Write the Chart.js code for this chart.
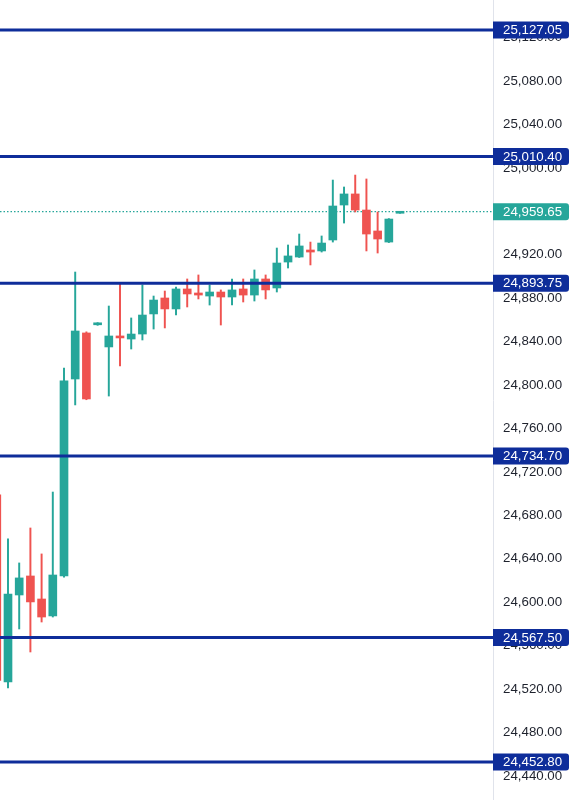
<!DOCTYPE html>
<html><head><meta charset="utf-8">
<script src="https://cdn.jsdelivr.net/npm/chart.js@4.4.1/dist/chart.umd.min.js"></script>
<style>html,body{margin:0;padding:0;background:#fff;overflow:hidden}#wrap{width:576px;height:800px;position:relative}</style>
</head><body><div id="wrap"><canvas id="c"></canvas></div>
<script>
const candleIndex = [0,1,2,3,4,5,6,7,8,9,10,11,12,13,14,15,16,17,18,19,20,21,22,23,24,25,26,27,28,29,30,31,32,33,34,35,36];
const opens  = [24699.0,24526.6,24606.7,24624.2,24603.0,24587.4,24624.2,24805.6,24848.0,24855.5,24835.1,24845.2,24842.4,24847.0,24865.5,24880.2,24870.1,24888.5,24884.8,24882.0,24885.7,24881.1,24888.5,24882.9,24897.7,24889.4,24913.3,24917.9,24924.4,24923.5,24933.6,24965.8,24976.0,24961.2,24941.9,24931.7,24958.2];
const highs  = [24712.0,24658.3,24636.2,24668.4,24644.5,24701.5,24815.7,24904.1,24849.0,24857.5,24872.8,24893.0,24861.8,24892.2,24882.0,24886.6,24890.3,24897.7,24901.4,24892.2,24887.6,24897.7,24897.7,24906.0,24901.4,24926.2,24929.0,24939.1,24931.7,24937.3,24988.8,24982.4,24993.4,24989.8,24959.4,24953.3,24959.65];
const lows   = [24515.0,24521.1,24575.4,24554.2,24581.8,24586.4,24623.0,24781.7,24786.5,24855.0,24789.9,24817.6,24833.2,24841.5,24851.6,24852.6,24864.5,24871.9,24879.3,24873.7,24855.3,24873.7,24876.5,24877.4,24879.3,24885.7,24907.8,24917.5,24910.6,24922.5,24931.7,24949.2,24959.4,24923.5,24921.6,24931.2,24958.2];
const closes = [24528.0,24607.6,24622.4,24600.3,24586.4,24625.1,24803.8,24849.8,24787.2,24857.0,24845.2,24843.4,24847.0,24864.5,24878.3,24870.1,24888.5,24883.9,24882.9,24885.7,24881.1,24887.6,24882.9,24897.7,24887.6,24912.4,24918.9,24928.1,24922.5,24930.8,24964.9,24976.0,24961.2,24939.1,24934.5,24952.9,24959.65];
const levels = [25127.05,25010.40,24893.75,24734.70,24567.50,24452.80];
const currentPrice = 24959.65;
const tickValues = [24440,24480,24520,24560,24600,24640,24680,24720,24760,24800,24840,24880,24920,24960,25000,25040,25080,25120];

const X_MIN = 0.286, X_MAX = 44.3, Y_MIN = 24417.9, Y_MAX = 25154.6;
const UP = '#26a69a', DOWN = '#ef5350', LEVEL = '#0e2d9a';
const FONT = '"Liberation Sans", Arial, sans-serif';
const fmt = v => v.toLocaleString('en-US',{minimumFractionDigits:2,maximumFractionDigits:2});
const colors = candleIndex.map((_,i)=> closes[i] >= opens[i] ? UP : DOWN);

const datasets = [];
levels.forEach(v => datasets.push({
  type:'line', data:[{x:X_MIN,y:v},{x:X_MAX,y:v}], borderColor:LEVEL, borderWidth:3,
  pointRadius:0, order:0, tension:0
}));
datasets.push({
  type:'line', data:[{x:X_MIN,y:currentPrice},{x:X_MAX,y:currentPrice}], borderColor:UP, borderWidth:1.2,
  borderDash:[1.5,2], pointRadius:0, order:5
});
datasets.push({
  type:'bar', data: candleIndex.map((x,i)=>({x, y:[opens[i], closes[i]]})),
  backgroundColor: colors, borderWidth:0, barThickness:8, minBarLength:2, order:1, grouped:false
});
datasets.push({
  type:'bar', data: candleIndex.map((x,i)=>({x, y:[lows[i], highs[i]]})),
  backgroundColor: colors, borderWidth:0, barThickness:1.3, order:2, grouped:false
});

const levelLabels = {
  id:'levelLabels',
  afterDraw(chart){
    const ctx = chart.ctx, ys = chart.scales.y, x0 = ys.left;
    ctx.save();
    ctx.font = '13.3px ' + FONT;
    ctx.textBaseline = 'middle'; ctx.textAlign = 'left';
    const boxes = levels.map(v=>({v, c:LEVEL})).concat([{v:currentPrice, c:UP}]);
    boxes.forEach(b=>{
      const py = ys.getPixelForValue(b.v);
      ctx.fillStyle = b.c;
      ctx.beginPath();
      ctx.roundRect(x0, py-8.5, 76, 17, [0,3,3,0]);
      ctx.fill();
      ctx.fillStyle = '#ffffff';
      ctx.fillText(fmt(b.v), x0+10, py+0.5);
    });
    ctx.restore();
  }
};

new Chart(document.getElementById('c'), {
  type:'bar',
  data:{ datasets },
  options:{
    responsive:true, maintainAspectRatio:false, animation:false,
    layout:{padding:0},
    plugins:{legend:{display:false}, tooltip:{enabled:false}},
    scales:{
      x:{ type:'linear', min:X_MIN, max:X_MAX, offset:false, display:false, grid:{display:false} },
      y:{
        type:'linear', position:'right', min:Y_MIN, max:Y_MAX, beginAtZero:false,
        grid:{display:false, drawTicks:false},
        border:{display:true, color:'#e0e3eb', width:1},
        ticks:{ padding:10, color:'#1e222d', font:{size:13.3, family:FONT}, callback:v=>fmt(v) },
        afterBuildTicks(s){ s.ticks = tickValues.map(v=>({value:v})); },
        afterFit(s){ s.width = 83; s.paddingTop = 0; s.paddingBottom = 0; }
      }
    }
  },
  plugins:[levelLabels]
});
</script>
</body></html>
